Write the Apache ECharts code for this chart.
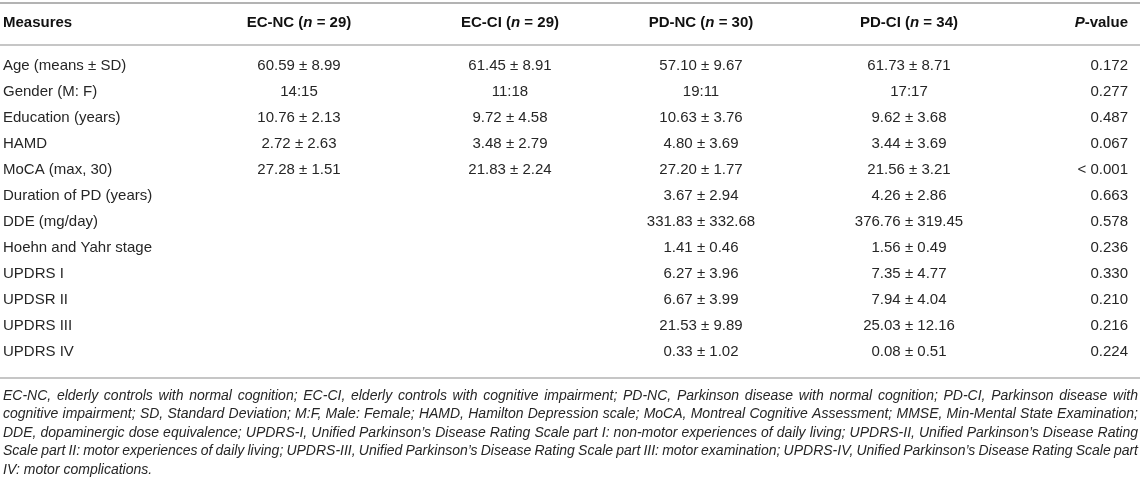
<!DOCTYPE html>
<html>
<head>
<meta charset="utf-8">
<script src="https://cdn.jsdelivr.net/npm/echarts@6/dist/echarts.min.js"></script>
<style>
  html, body { margin: 0; padding: 0; background: #fff; }
  #main { width: 1142px; height: 486px; }
</style>
</head>
<body>
<div id="main"></div>
<script>
// table data
var groups = ['EC-NC', 'EC-CI', 'PD-NC', 'PD-CI'];
var groupN = [29, 29, 30, 34];
var measures = ['Age (means ± SD)', 'Gender (M: F)', 'Education (years)', 'HAMD', 'MoCA (max, 30)',
  'Duration of PD (years)', 'DDE (mg/day)', 'Hoehn and Yahr stage', 'UPDRS I', 'UPDSR II', 'UPDRS III', 'UPDRS IV'];
var ecNc = ['60.59 ± 8.99', '14:15', '10.76 ± 2.13', '2.72 ± 2.63', '27.28 ± 1.51', '', '', '', '', '', '', ''];
var ecCi = ['61.45 ± 8.91', '11:18', '9.72 ± 4.58', '3.48 ± 2.79', '21.83 ± 2.24', '', '', '', '', '', '', ''];
var pdNc = ['57.10 ± 9.67', '19:11', '10.63 ± 3.76', '4.80 ± 3.69', '27.20 ± 1.77', '3.67 ± 2.94',
  '331.83 ± 332.68', '1.41 ± 0.46', '6.27 ± 3.96', '6.67 ± 3.99', '21.53 ± 9.89', '0.33 ± 1.02'];
var pdCi = ['61.73 ± 8.71', '17:17', '9.62 ± 3.68', '3.44 ± 3.69', '21.56 ± 3.21', '4.26 ± 2.86',
  '376.76 ± 319.45', '1.56 ± 0.49', '7.35 ± 4.77', '7.94 ± 4.04', '25.03 ± 12.16', '0.08 ± 0.51'];
var pValues = ['0.172', '0.277', '0.487', '0.067', '< 0.001', '0.663', '0.578', '0.236', '0.330', '0.210', '0.216', '0.224'];
var notes = [
  'EC-NC, elderly controls with normal cognition; EC-CI, elderly controls with cognitive impairment; PD-NC, Parkinson disease with normal cognition; PD-CI, Parkinson disease with',
  'cognitive impairment; SD, Standard Deviation; M:F, Male: Female; HAMD, Hamilton Depression scale; MoCA, Montreal Cognitive Assessment; MMSE, Min-Mental State Examination;',
  'DDE, dopaminergic dose equivalence; UPDRS-I, Unified Parkinson\u2019s Disease Rating Scale part I: non-motor experiences of daily living; UPDRS-II, Unified Parkinson\u2019s Disease Rating',
  'Scale part II: motor experiences of daily living; UPDRS-III, Unified Parkinson\u2019s Disease Rating Scale part III: motor examination; UPDRS-IV, Unified Parkinson\u2019s Disease Rating Scale part',
  'IV: motor complications.'
];

// layout
var FONT = '"Liberation Sans", Arial, Helvetica, sans-serif';
var INK = '#262626';
var RULE = '#b3b3b3';
var colX = [3, 299, 510, 701, 909, 1128];
var colAlign = ['left', 'center', 'center', 'center', 'center', 'right'];
var rowTop = 53, rowH = 26;
var headY = 23;
var noteY = 396, noteStep = 18.5, noteL = 3, noteR = 1138;

var columns = [measures, ecNc, ecCi, pdNc, pdCi, pValues];
var cells = [];
columns.forEach(function (col, c) {
  col.forEach(function (txt, r) {
    if (txt) cells.push([colX[c], r, txt, c]);
  });
});

var graphics = [];
function rule(y, w) {
  graphics.push({ type: 'line', shape: { x1: 0, y1: y, x2: 1140, y2: y }, style: { stroke: RULE, lineWidth: w } });
}
rule(3, 2);
rule(45, 1.5);
rule(378, 1.5);

// header
var headRich = {
  b: { fontFamily: FONT, fontSize: 15, fontWeight: 'bold', fill: '#111' },
  i: { fontFamily: FONT, fontSize: 15, fontWeight: 'bold', fontStyle: 'italic', fill: '#111' }
};
graphics.push({ type: 'text', x: colX[0], y: headY,
  style: { text: '{b|Measures}', rich: headRich, align: 'left', verticalAlign: 'middle' } });
groups.forEach(function (g, i) {
  graphics.push({ type: 'text', x: colX[i + 1], y: headY,
    style: { text: '{b|' + g + ' (}{i|n}{b| = ' + groupN[i] + ')}', rich: headRich, align: 'center', verticalAlign: 'middle' } });
});
graphics.push({ type: 'text', x: colX[5], y: headY,
  style: { text: '{i|P}{b|-value}', rich: headRich, align: 'right', verticalAlign: 'middle' } });

// footnote, justified word by word
var ctx = document.createElement('canvas').getContext('2d');
var noteFont = 'italic 14px ' + FONT;
ctx.font = noteFont;
var space = ctx.measureText(' ').width;
notes.forEach(function (line, k) {
  var y = noteY + k * noteStep;
  var words = line.split(' ');
  var widths = words.map(function (w) { return ctx.measureText(w).width; });
  var total = widths.reduce(function (a, b) { return a + b; }, 0);
  var gap = k === notes.length - 1 ? space : Math.max(2, (noteR - noteL - total) / (words.length - 1));
  var x = noteL;
  words.forEach(function (w, j) {
    graphics.push({ type: 'text', x: x, y: y,
      style: { text: w, font: noteFont, fill: INK, align: 'left', verticalAlign: 'middle' } });
    x += widths[j] + gap;
  });
});

var chart = echarts.init(document.getElementById('main'), null, { renderer: 'canvas' });
chart.setOption({
  animation: false,
  grid: { left: 0, right: 0, top: rowTop, height: rowH * measures.length, containLabel: false },
  xAxis: { type: 'value', min: 0, max: 1142, show: false },
  yAxis: { type: 'category', data: measures, inverse: true, show: false },
  graphic: graphics,
  series: [{
    type: 'custom',
    coordinateSystem: 'cartesian2d',
    data: cells,
    encode: { x: 0, y: 1 },
    renderItem: function (params, api) {
      var cell = cells[params.dataIndex];
      var p = api.coord([cell[0], cell[1]]);
      return {
        type: 'text', x: p[0], y: p[1],
        style: { text: cell[2], font: '15px ' + FONT, fill: INK, align: colAlign[cell[3]], verticalAlign: 'middle' }
      };
    }
  }]
});
</script>
</body>
</html>
